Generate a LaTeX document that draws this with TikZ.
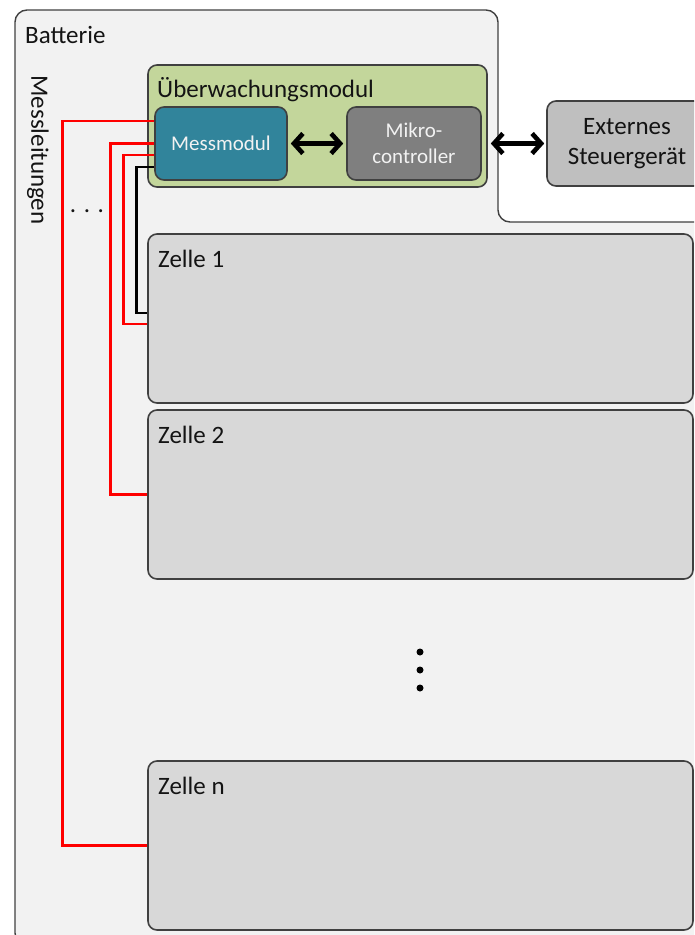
\documentclass[tikz,border=0pt]{standalone}
\usepackage{fontspec}
\setmainfont{Carlito}
\usetikzlibrary{arrows.meta}

\definecolor{edge}{HTML}{404040}
\definecolor{battfill}{HTML}{F2F2F2}
\definecolor{modgreen}{HTML}{C3D69B}
\definecolor{messteal}{HTML}{31849B}
\definecolor{mcgray}{HTML}{7F7F7F}
\definecolor{extgray}{HTML}{BFBFBF}
\definecolor{cellgray}{HTML}{D8D8D8}
\definecolor{ink}{HTML}{141414}
\definecolor{paleink}{HTML}{F2F2F2}

\tikzset{
  box/.style={draw=edge, line width=1.6pt, rounded corners=9pt, inner sep=0pt},
  cell/.style={box, fill=cellgray, minimum width=545pt, minimum height=169pt},
  bigfont/.style={font=\fontsize{25}{30}\selectfont},
  smallfont/.style={font=\fontsize{21}{26}\selectfont},
  tag/.style={bigfont, text=ink, anchor=base west, inner sep=0pt},
  wire/.style={line width=2.6pt, red},
  groundwire/.style={line width=2.6pt, black},
  biarrow/.style={line width=4.6pt,
    {Straight Barb[length=9pt,width=20pt]}-{Straight Barb[length=9pt,width=20pt]}},
  vdot/.style={circle, fill=black, minimum size=7pt, inner sep=0pt}
}

\begin{document}
\begin{tikzpicture}[x=1pt,y=-1pt]
\clip (0,0) rectangle (694,935);
\useasboundingbox (0,0) rectangle (694,935);

% battery housing with the notch for the external controller
\draw[draw=edge, line width=1.4pt, fill=battfill, rounded corners=12pt]
  (15,400) -- (15,10) -- (498,10) -- (498,222) -- (730,222)
  -- (730,945) -- (15,945) -- cycle;
\node[tag] (batt) at (25,43) {Batterie};
\node[bigfont, text=ink, rotate=-90, inner sep=0pt] (leit) at (38,150) {Messleitungen};
\node[tag, anchor=base] (hdots) at (87,212) {. . .};

% monitoring module
\node[box, fill=modgreen, minimum width=339pt, minimum height=122pt] (ueb) at (317.5,126) {};
\node[tag] (uebt) at (157,97) {Überwachungsmodul};
\node[box, fill=messteal, minimum width=132pt, minimum height=73pt,
      smallfont, text=paleink] (mess) at (221,143.5) {Messmodul};
\node[box, fill=mcgray, minimum width=134pt, minimum height=73pt,
      smallfont, text=paleink, align=center] (mikro) at (414,143.5) {Mikro-\\controller};

% external control unit
\node[box, fill=extgray, minimum width=160pt, minimum height=85pt,
      bigfont, text=ink, align=center] (ext) at (627,143.5) {Externes\\Steuergerät};

% cells
\node[cell] (z1) at (420.5,318.5) {};
\node[tag] (z1t) at (158,267) {Zelle 1};
\node[cell] (z2) at (420.5,494.5) {};
\node[tag] (z2t) at (158,443) {Zelle 2};
\node[cell] (zn) at (420.5,845.5) {};
\node[tag] (znt) at (158,794) {Zelle n};

% vertical ellipsis between the cells
\node[vdot] (v1) at (420,652) {};
\node[vdot] (v2) at (420,670) {};
\node[vdot] (v3) at (420,688) {};

% communication links
\draw[biarrow, shorten <=3pt, shorten >=3pt] (mess) -- (mikro);
\draw[biarrow, shorten <=3pt, shorten >=2pt] (ueb.east |- ext.west) -- (ext.west);

% measurement leads
\draw[wire] ([yshift=22.5pt]mess.west) -- ++(-92,0) |- (zn.west);
\draw[wire] (mess.west) -- ++(-44,0) |- (z2.west);
\draw[wire] ([yshift=-11.5pt]mess.west) -- ++(-31,0) |- ([yshift=-5.5pt]z1.west);
\draw[groundwire] ([yshift=-23.5pt]mess.west) -- ++(-18,0) |- ([yshift=5.5pt]z1.west);
\end{tikzpicture}
\end{document}
